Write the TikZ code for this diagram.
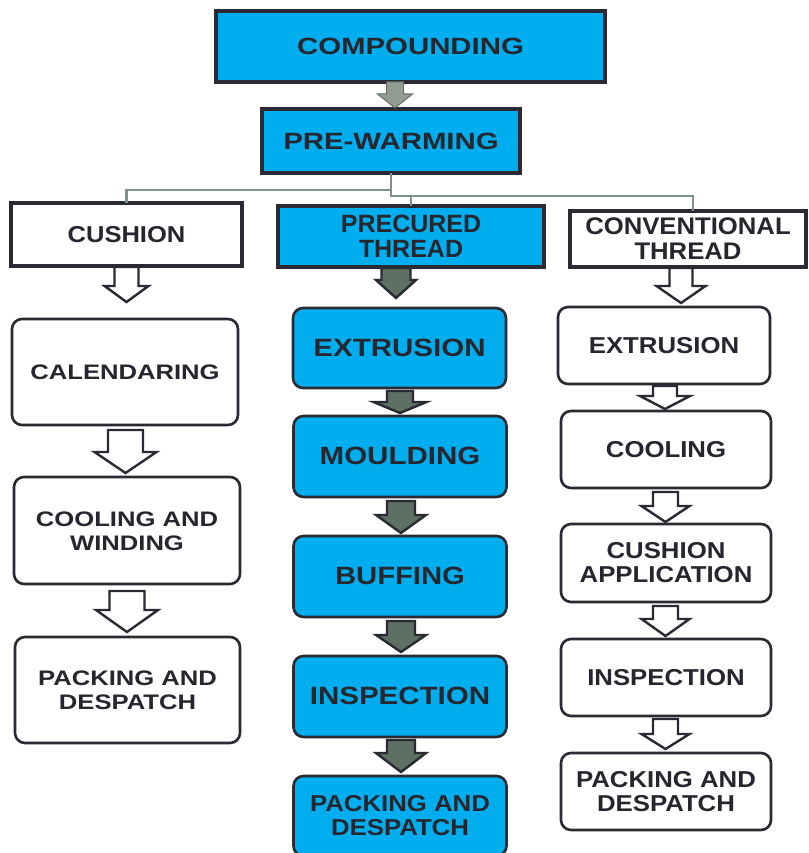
\documentclass[tikz,border=0pt]{standalone}
\usepackage{fontspec}
\setmainfont{Liberation Sans}
\usepackage{graphicx}
\usetikzlibrary{calc}
\definecolor{cyanbox}{RGB}{0,174,239}
\definecolor{edge}{RGB}{42,42,50}
\definecolor{txtc}{RGB}{37,38,46}
\definecolor{grayarr}{RGB}{145,157,146}
\definecolor{darkarr}{RGB}{94,112,100}
\definecolor{connc}{RGB}{127,144,135}
\newcommand\lbl[4]{\raisebox{0pt}[\dimexpr\height+6pt\relax]{\scalebox{#1}[1]{\fontsize{#2}{#3}\selectfont\bfseries\begin{tabular}{@{}c@{}}#4\end{tabular}}}}
% style, from, to, top gap, bottom gap, shaft half, head half, head length, x offset
\newcommand\blockarr[9]{%
\path[#1] let \p1=($(#2.south)+(#9,0)$), \p2=(#3.north) in
 (\x1-#6pt,\y1-#4pt) -- (\x1+#6pt,\y1-#4pt) -- (\x1+#6pt,\y2+#5pt+#8pt) -- (\x1+#7pt,\y2+#5pt+#8pt)
 -- (\x1,\y2+#5pt) -- (\x1-#7pt,\y2+#5pt+#8pt) -- (\x1-#6pt,\y2+#5pt+#8pt) -- cycle;}
\begin{document}
\begin{tikzpicture}[x=1pt,y=-1pt,
  every node/.style={inner sep=0pt,outer sep=0pt,text=txtc},
  headbox/.style={draw=edge,line width=3.2pt,rectangle},
  cyanhead/.style={headbox,fill=cyanbox},
  whitehead/.style={headbox,fill=white},
  rbox/.style={draw=edge,line width=2.6pt,rounded corners=10pt,rectangle},
  cyanr/.style={rbox,fill=cyanbox},
  whiter/.style={rbox,fill=white},
  hollowarr/.style={draw=edge,fill=white,line width=2.4pt,line join=miter},
  darkarrow/.style={draw=edge,fill=darkarr,line width=2.4pt,line join=miter},
  grayarrow/.style={draw=grayarr!70!black,fill=grayarr,line width=1pt,line join=miter},
  conn/.style={draw=connc,line width=2.2pt}]
\useasboundingbox (0,0) rectangle (808,853);
% headers
\node[cyanhead,minimum width=389pt,minimum height=71pt] (comp) at (410.5,46.5) {\lbl{1.25}{23.5}{26}{COMPOUNDING}};
\node[cyanhead,minimum width=258pt,minimum height=64pt] (pw) at (391,141) {\lbl{1.25}{23.5}{26}{PRE-WARMING}};
\node[whitehead,minimum width=231pt,minimum height=63pt] (cush) at (126.5,234.5) {\lbl{1.11}{23}{25}{CUSHION}};
\node[cyanhead,minimum width=266pt,minimum height=61pt] (prec) at (411,236.5) {\lbl{1.0}{25}{25}{PRECURED\\THREAD}};
\node[whitehead,minimum width=236pt,minimum height=56pt] (conv) at (688,239) {\lbl{1.07}{24}{24.5}{CONVENTIONAL\\THREAD}};
% left column
\node[whiter,minimum width=226pt,minimum height=106pt] (cal) at (125,372) {\lbl{1.22}{21}{24}{CALENDARING}};
\node[whiter,minimum width=226pt,minimum height=107pt] (coolw) at (127,530.5) {\lbl{1.22}{21}{24}{COOLING AND\\WINDING}};
\node[whiter,minimum width=225pt,minimum height=106pt] (packL) at (127.5,690) {\lbl{1.22}{21}{24}{PACKING AND\\DESPATCH}};
% middle column
\node[cyanr,minimum width=213pt,minimum height=80pt] (extM) at (399.5,348) {\lbl{1.18}{25}{25}{EXTRUSION}};
\node[cyanr,minimum width=213pt,minimum height=81pt] (mould) at (400,456.5) {\lbl{1.18}{25}{25}{MOULDING}};
\node[cyanr,minimum width=213pt,minimum height=81pt] (buff) at (400,576.5) {\lbl{1.17}{25}{25}{BUFFING}};
\node[cyanr,minimum width=213pt,minimum height=81pt] (inspM) at (400,696.5) {\lbl{1.18}{25}{25}{INSPECTION}};
\node[cyanr,minimum width=213pt,minimum height=80pt] (packM) at (400,816) {\lbl{1.12}{23}{24}{PACKING AND\\DESPATCH}};
% right column
\node[whiter,minimum width=212pt,minimum height=77pt] (extR) at (664,345.5) {\lbl{1.12}{23}{24}{EXTRUSION}};
\node[whiter,minimum width=210pt,minimum height=77pt] (coolR) at (666,449.5) {\lbl{1.12}{23}{24}{COOLING}};
\node[whiter,minimum width=210pt,minimum height=78pt] (capp) at (666,563) {\lbl{1.12}{23}{24}{CUSHION\\APPLICATION}};
\node[whiter,minimum width=210pt,minimum height=77pt] (inspR) at (666,677.5) {\lbl{1.12}{23}{24}{INSPECTION}};
\node[whiter,minimum width=210pt,minimum height=77pt] (packR) at (666,791.5) {\lbl{1.12}{23}{24}{PACKING AND\\DESPATCH}};
% connectors
\coordinate (j1) at (391,190);
\coordinate (j2) at (391,196);
\draw[conn] (pw.south) -- (j1) -| (cush.north);
\draw[conn] (j1) -- (j2) -| ([xshift=5pt]conv.north);
\draw[conn] (j2) -| (prec.north);
% block arrows
\blockarr{grayarrow}{comp}{pw}{0}{1}{8.5}{17.5}{14}{-15.5}
\blockarr{hollowarr}{cush}{cal}{1}{17}{12}{22}{16}{0}
\blockarr{hollowarr}{cal}{coolw}{5}{4}{17.5}{31}{21}{0.5}
\blockarr{hollowarr}{coolw}{packL}{7}{5}{17.5}{31}{22}{0}
\blockarr{darkarrow}{prec}{extM}{1}{10}{14.5}{20}{18}{-15}
\blockarr{darkarrow}{extM}{mould}{3}{3}{13}{26.5}{11}{0.5}
\blockarr{darkarrow}{mould}{buff}{4}{3}{14}{25}{18}{1}
\blockarr{darkarrow}{buff}{inspM}{4}{4}{14}{25}{17}{1}
\blockarr{darkarrow}{inspM}{packM}{3}{4}{14}{25}{19}{1}
\blockarr{hollowarr}{conv}{extR}{1}{4}{11.5}{24.5}{17}{-7}
\blockarr{hollowarr}{extR}{coolR}{2}{2}{12}{25}{13}{1}
\blockarr{hollowarr}{coolR}{capp}{4}{2}{12.5}{24}{16}{-0.5}
\blockarr{hollowarr}{capp}{inspR}{4}{3}{12.5}{24}{17}{-0.5}
\blockarr{hollowarr}{inspR}{packR}{3}{4}{12.5}{24}{15}{-0.5}
\end{tikzpicture}
\end{document}
